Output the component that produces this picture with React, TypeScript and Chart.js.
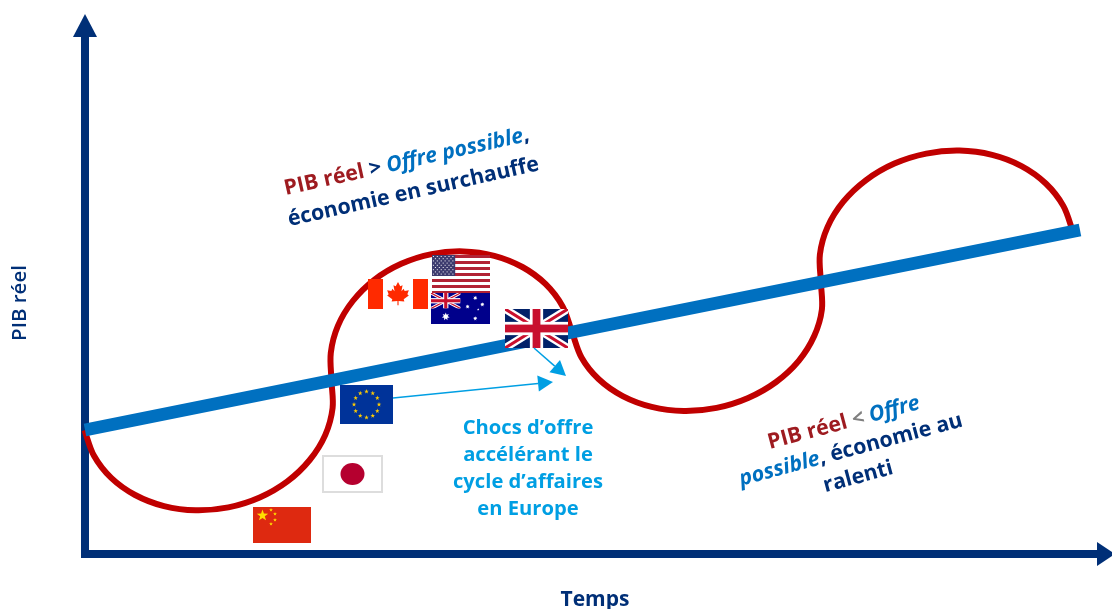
import React, { useEffect, useRef } from "react";
import { Chart, registerables } from "chart.js";

Chart.register(...registerables);

// Business-cycle curve around the supply trend (time on x, real GDP drawn downward from the top edge on y)
const cycleX = [84.5, 94, 111.2, 135.1, 164, 195.7, 228.4, 259.7, 287.4, 309.7, 325.2, 332.6, 331.5, 330.8, 337.9, 352.8, 374.3, 401.2, 431.6, 463.4, 494.3, 522.4, 545.7, 562.6, 572, 581.5, 598.8, 622.7, 651.7, 683.7, 716.6, 748.1, 776.1, 798.7, 814.2, 821.9, 820.9, 819.9, 827.5, 843.3, 866.1, 894.4, 926.3, 959.6, 992.1, 1021.5, 1045.8, 1063.3, 1073];
const cycleY = [430.2, 455.8, 477.9, 495, 506.1, 510.3, 507.4, 497.5, 481.4, 460, 435.1, 408, 380.8, 352.8, 325.8, 301, 279.8, 263.8, 254.1, 251.4, 255.8, 267, 284.2, 306.4, 332, 357.5, 379.3, 396.1, 406.9, 411, 407.9, 398, 382, 360.9, 336.1, 309.5, 282.6, 254.5, 227.1, 201.7, 180.1, 163.6, 153.6, 150.6, 154.9, 166.1, 183.5, 205.9, 231.8];
const trendX = [85, 1080];
const trendY = [430, 230];

const axisNavy = "#002F77";
const cycleRed = "#C00000";
const trendBlue = "#0070C0";
const shockBlue = "#009FE3";
const titleRed = "#9E1B20";
const grey = "#808080";

const verticalAxisX = [85, 85];
const verticalAxisY = [557, 37];
const verticalAxisTip = [85, 14];
const horizontalAxisX = [81, 1097];
const horizontalAxisY = [554, 554];
const horizontalAxisTip = [1115, 554];

const shockOneFrom = [534, 348];
const shockOneTo = [566, 376];
const shockTwoFrom = [393, 398];
const shockTwoTo = [553, 382];

const shockLines = ["Chocs d’offre", "accélérant le", "cycle d’affaires", "en Europe"];
const shockLineY = [428, 455, 482, 509];
const xAxisTitle = "Temps";
const yAxisTitle = "PIB réel";

type Run = { t: string; c: string; i?: boolean };
const overheatLines: Run[][] = [
  [{ t: "PIB réel", c: titleRed }, { t: " > ", c: axisNavy }, { t: "Offre possible", c: trendBlue, i: true }, { t: ",", c: axisNavy }],
  [{ t: "économie en surchauffe", c: axisNavy }],
];
const slowdownLines: Run[][] = [
  [{ t: "PIB réel", c: titleRed }, { t: " < ", c: grey }, { t: "Offre", c: trendBlue, i: true }],
  [{ t: "possible", c: trendBlue, i: true }, { t: ", économie au", c: axisNavy }],
  [{ t: "ralenti", c: axisNavy }],
];

const FONT = '"Open Sans"';

function star(ctx: CanvasRenderingContext2D, cx: number, cy: number, r: number, color: string, points = 5, inner = 0.4) {
  ctx.fillStyle = color;
  ctx.beginPath();
  for (let i = 0; i < points * 2; i++) {
    const rr = i % 2 ? r * inner : r;
    const a = -Math.PI / 2 + (i * Math.PI) / points;
    ctx.lineTo(cx + rr * Math.cos(a), cy + rr * Math.sin(a));
  }
  ctx.closePath();
  ctx.fill();
}

function unionJack(ctx: CanvasRenderingContext2D, x: number, y: number, w: number, h: number, navy: string) {
  ctx.save();
  ctx.beginPath();
  ctx.rect(x, y, w, h);
  ctx.clip();
  ctx.fillStyle = navy;
  ctx.fillRect(x, y, w, h);
  const diag = (width: number, color: string) => {
    ctx.strokeStyle = color;
    ctx.lineWidth = width;
    ctx.beginPath();
    ctx.moveTo(x, y);
    ctx.lineTo(x + w, y + h);
    ctx.moveTo(x + w, y);
    ctx.lineTo(x, y + h);
    ctx.stroke();
  };
  diag(h * 0.2, "#FFFFFF");
  diag(h * 0.08, "#C8102E");
  ctx.fillStyle = "#FFFFFF";
  ctx.fillRect(x + w / 2 - h * 0.17, y, h * 0.34, h);
  ctx.fillRect(x, y + h / 2 - h * 0.17, w, h * 0.34);
  ctx.fillStyle = "#C8102E";
  ctx.fillRect(x + w / 2 - h * 0.1, y, h * 0.2, h);
  ctx.fillRect(x, y + h / 2 - h * 0.1, w, h * 0.2);
  ctx.restore();
}

function canadaFlag(ctx: CanvasRenderingContext2D, x: number, y: number, w: number, h: number) {
  const red = "#FF2A00";
  ctx.fillStyle = "#FFFFFF";
  ctx.fillRect(x, y, w, h);
  ctx.fillStyle = red;
  ctx.fillRect(x, y, w * 0.25, h);
  ctx.fillRect(x + w * 0.75, y, w * 0.25, h);
  const leaf = [[0, -1], [-0.2, -0.62], [-0.4, -0.72], [-0.3, -0.18], [-0.5, -0.4], [-0.58, -0.22], [-0.95, -0.28], [-0.82, 0.08], [-0.95, 0.18], [-0.5, 0.52], [-0.56, 0.72], [-0.05, 0.66], [-0.05, 1.05], [0.05, 1.05], [0.05, 0.66], [0.56, 0.72], [0.5, 0.52], [0.95, 0.18], [0.82, 0.08], [0.95, -0.28], [0.58, -0.22], [0.5, -0.4], [0.3, -0.18], [0.4, -0.72], [0.2, -0.62]];
  const cx = x + w / 2;
  const cy = y + h * 0.48;
  const s = h * 0.38;
  ctx.beginPath();
  leaf.forEach(([a, b]) => ctx.lineTo(cx + a * s, cy + b * s));
  ctx.closePath();
  ctx.fill();
}

function usFlag(ctx: CanvasRenderingContext2D, x: number, y: number, w: number, h: number) {
  const sh = h / 13;
  for (let i = 0; i < 13; i++) {
    ctx.fillStyle = i % 2 ? "#FFFFFF" : "#B22234";
    ctx.fillRect(x, y + i * sh, w, sh + 0.3);
  }
  ctx.fillStyle = "#3C3B6E";
  ctx.fillRect(x, y, w * 0.4, sh * 7);
  ctx.fillStyle = "#FFFFFF";
  for (let row = 0; row < 9; row++) {
    const count = row % 2 ? 5 : 6;
    for (let c = 0; c < count; c++) {
      ctx.fillRect(x + (row % 2 ? 2.9 : 0.9) + c * 3.9, y + 1 + row * 2.2, 1, 1);
    }
  }
}

function australiaFlag(ctx: CanvasRenderingContext2D, x: number, y: number, w: number, h: number) {
  ctx.fillStyle = "#00008B";
  ctx.fillRect(x, y, w, h);
  unionJack(ctx, x, y, w / 2, h / 2, "#00008B");
  star(ctx, x + w * 0.25, y + h * 0.76, 4, "#FFFFFF", 7, 0.5);
  star(ctx, x + w * 0.75, y + h * 0.16, 2.2, "#FFFFFF", 7, 0.5);
  star(ctx, x + w * 0.62, y + h * 0.44, 2.2, "#FFFFFF", 7, 0.5);
  star(ctx, x + w * 0.87, y + h * 0.37, 2.2, "#FFFFFF", 7, 0.5);
  star(ctx, x + w * 0.75, y + h * 0.82, 2.2, "#FFFFFF", 7, 0.5);
  star(ctx, x + w * 0.8, y + h * 0.53, 1.2, "#FFFFFF", 5, 0.5);
}

function euFlag(ctx: CanvasRenderingContext2D, x: number, y: number, w: number, h: number) {
  ctx.fillStyle = "#003399";
  ctx.fillRect(x, y, w, h);
  for (let i = 0; i < 12; i++) {
    const a = (i * Math.PI) / 6;
    star(ctx, x + w / 2 + 12.5 * Math.cos(a), y + h / 2 + 13 * Math.sin(a), 2.4, "#FFCC00");
  }
}

function japanFlag(ctx: CanvasRenderingContext2D, x: number, y: number, w: number, h: number) {
  ctx.fillStyle = "#FFFFFF";
  ctx.fillRect(x, y, w, h);
  ctx.strokeStyle = "#DDDDDD";
  ctx.lineWidth = 2;
  ctx.strokeRect(x + 1, y + 1, w - 2, h - 2);
  ctx.fillStyle = "#B5002F";
  ctx.beginPath();
  ctx.ellipse(x + w / 2, y + h / 2, 12, 11, 0, 0, Math.PI * 2);
  ctx.fill();
}

function chinaFlag(ctx: CanvasRenderingContext2D, x: number, y: number, w: number, h: number) {
  ctx.fillStyle = "#DE2910";
  ctx.fillRect(x, y, w, h);
  star(ctx, x + 9.5, y + 8.5, 6, "#FFDE00");
  star(ctx, x + 18, y + 3, 2, "#FFDE00");
  star(ctx, x + 22, y + 7, 2, "#FFDE00");
  star(ctx, x + 22, y + 13, 2, "#FFDE00");
  star(ctx, x + 18, y + 17, 2, "#FFDE00");
}

type FlagDraw = (ctx: CanvasRenderingContext2D, x: number, y: number, w: number, h: number) => void;
const flags: { draw: FlagDraw; box: number[] }[] = [
  { draw: canadaFlag, box: [368, 279, 428, 309] },
  { draw: usFlag, box: [432, 255, 490, 294] },
  { draw: australiaFlag, box: [431, 293, 490, 324] },
  { draw: (c, x, y, w, h) => unionJack(c, x, y, w, h, "#012169"), box: [505, 309, 568, 348] },
  { draw: euFlag, box: [340, 385, 393, 424] },
  { draw: japanFlag, box: [322, 455, 383, 493] },
  { draw: chinaFlag, box: [253, 507, 311, 543] },
];

function arrowHead(ctx: CanvasRenderingContext2D, bx: number, by: number, tx: number, ty: number, half: number, color: string) {
  const len = Math.hypot(tx - bx, ty - by);
  const nx = -(ty - by) / len;
  const ny = (tx - bx) / len;
  ctx.fillStyle = color;
  ctx.beginPath();
  ctx.moveTo(tx, ty);
  ctx.lineTo(bx + nx * half, by + ny * half);
  ctx.lineTo(bx - nx * half, by - ny * half);
  ctx.closePath();
  ctx.fill();
}

function drawRuns(ctx: CanvasRenderingContext2D, lines: Run[][], cx: number, cy: number, lineGap: number, angle: number, size: number) {
  ctx.save();
  ctx.translate(cx, cy);
  ctx.rotate(angle);
  ctx.textBaseline = "middle";
  ctx.textAlign = "left";
  const startY = (-(lines.length - 1) * lineGap) / 2;
  lines.forEach((line, idx) => {
    const fontOf = (r: Run) => `${r.i ? "italic " : ""}bold ${size}px ${FONT}`;
    let total = 0;
    line.forEach((r) => {
      ctx.font = fontOf(r);
      total += ctx.measureText(r.t).width;
    });
    let x = -total / 2;
    line.forEach((r) => {
      ctx.font = fontOf(r);
      ctx.fillStyle = r.c;
      ctx.fillText(r.t, x, startY + idx * lineGap);
      x += ctx.measureText(r.t).width;
    });
  });
  ctx.restore();
}

// Arrowheads, flags and annotation text, all placed through the chart's scales
const annotations = {
  id: "annotations",
  afterDatasetsDraw(chart: Chart) {
    const { ctx, scales } = chart;
    const X = (v: number) => scales.x.getPixelForValue(v);
    const Y = (v: number) => scales.y.getPixelForValue(v);
    ctx.save();

    arrowHead(ctx, X(verticalAxisX[1]), Y(verticalAxisY[1]), X(verticalAxisTip[0]), Y(verticalAxisTip[1]), 12, axisNavy);
    arrowHead(ctx, X(horizontalAxisX[1]), Y(horizontalAxisY[1]), X(horizontalAxisTip[0]), Y(horizontalAxisTip[1]), 12, axisNavy);

    flags.forEach(({ draw, box }) => {
      draw(ctx, X(box[0]), Y(box[1]), X(box[2]) - X(box[0]), Y(box[3]) - Y(box[1]));
    });

    [[shockOneFrom, shockOneTo], [shockTwoFrom, shockTwoTo]].forEach(([from, to]) => {
      const fx = X(from[0]), fy = Y(from[1]), tx = X(to[0]), ty = Y(to[1]);
      const len = Math.hypot(tx - fx, ty - fy);
      const bx = tx - ((tx - fx) / len) * 15;
      const by = ty - ((ty - fy) / len) * 15;
      ctx.strokeStyle = shockBlue;
      ctx.lineWidth = 1.5;
      ctx.beginPath();
      ctx.moveTo(fx, fy);
      ctx.lineTo(bx, by);
      ctx.stroke();
      arrowHead(ctx, bx, by, tx, ty, 8, shockBlue);
    });

    ctx.textAlign = "center";
    ctx.textBaseline = "middle";
    ctx.font = `bold 20.2px ${FONT}`;
    ctx.fillStyle = shockBlue;
    shockLines.forEach((t, i) => ctx.fillText(t, X(528), Y(shockLineY[i])));

    ctx.font = `bold 21px ${FONT}`;
    ctx.fillStyle = axisNavy;
    ctx.fillText(xAxisTitle, X(595), Y(600));

    ctx.save();
    ctx.translate(X(20), Y(303));
    ctx.rotate(-Math.PI / 2);
    ctx.font = `600 20.5px ${FONT}`;
    ctx.fillText(yAxisTitle, 0, 0);
    ctx.restore();

    drawRuns(ctx, overheatLines, X(410), Y(177), 31, (-12.6 * Math.PI) / 180, 21.3);
    drawRuns(ctx, slowdownLines, X(851), Y(450), 28, (-15 * Math.PI) / 180, 21.3);
    ctx.restore();
  },
};

const toPoints = (xs: number[], ys: number[]) => xs.map((x, i) => ({ x, y: ys[i] }));

export default function App() {
  const ref = useRef<HTMLCanvasElement>(null);
  useEffect(() => {
    document.body.style.margin = "0";
    const chart = new Chart(ref.current!, {
      type: "line",
      data: {
        datasets: [
          { data: toPoints(verticalAxisX, verticalAxisY), borderColor: axisNavy, borderWidth: 8, pointRadius: 0, tension: 0 },
          { data: toPoints(horizontalAxisX, horizontalAxisY), borderColor: axisNavy, borderWidth: 8, pointRadius: 0, tension: 0 },
          { data: toPoints(cycleX, cycleY), borderColor: cycleRed, borderWidth: 6, pointRadius: 0, tension: 0.33 },
          { data: toPoints(trendX, trendY), borderColor: trendBlue, borderWidth: 12.5, pointRadius: 0, tension: 0 },
        ].reverse().map((d, i) => ({ ...d, order: i })),
      },
      options: {
        animation: false,
        responsive: false,
        layout: { padding: 0 },
        plugins: { legend: { display: false }, tooltip: { enabled: false } },
        scales: {
          x: { type: "linear", min: 0, max: 1112, display: false },
          y: { type: "linear", min: 0, max: 609, reverse: true, display: false },
        },
      },
      plugins: [annotations],
    });
    return () => chart.destroy();
  }, []);
  return (
    <div style={{ position: "fixed", left: 0, top: 0, width: 1112, height: 609, background: "#fff" }}>
      <canvas ref={ref} width={1112} height={609} style={{ display: "block" }} />
    </div>
  );
}
